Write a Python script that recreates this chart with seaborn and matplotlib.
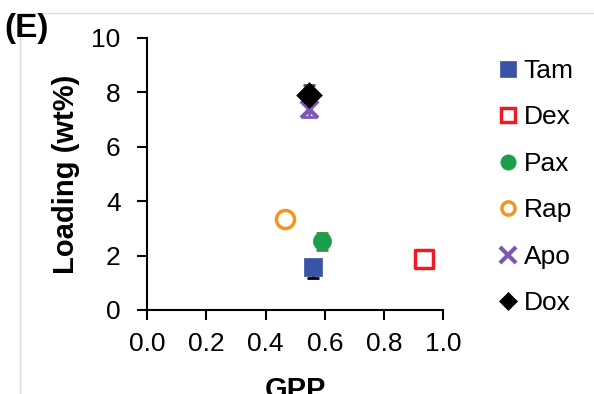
import numpy as np
import pandas as pd
import matplotlib
matplotlib.use('Agg')
import matplotlib.pyplot as plt
from matplotlib.lines import Line2D
import seaborn as sns

# data
drugs = ['Tam', 'Dex', 'Pax', 'Rap', 'Apo', 'Dox']
gpp = [0.56, 0.935, 0.59, 0.466, 0.547, 0.547]
loading = [1.58, 1.87, 2.52, 3.35, 7.38, 7.92]
err_low = [0.4, 0.15, 0.3, 0.12, 0.3, 0.35]
err_high = [0.2, 0.15, 0.3, 0.12, 0.3, 0.35]

colors = ['#3A53A4', '#ED1C24', '#1AA04A', '#F7941D', '#7E57B4', '#000000']
markers = ['s', 's', 'o', 'o', 'X', 'D']
filled = [True, False, True, False, True, True]
err_colors = ['#000000', '#ED1C24', '#6B7A3A', '#F7941D', '#7E57B4', '#555555']

df = pd.DataFrame({'drug': drugs, 'GPP': gpp, 'loading': loading,
                   'lo': err_low, 'hi': err_high})

sns.set_style('ticks')
plt.rcParams['font.family'] = ['Liberation Sans', 'DejaVu Sans']
plt.rcParams['text.color'] = 'black'
plt.rcParams['axes.labelcolor'] = 'black'
plt.rcParams['xtick.color'] = 'black'
plt.rcParams['ytick.color'] = 'black'

fig = plt.figure(figsize=(5.94, 3.94), dpi=100)
ax = fig.add_axes([0.2475, 0.2132, 0.4987, 0.6904])

handles = []
for i, row in df.iterrows():
    ax.errorbar(row['GPP'], row['loading'], yerr=[[row['lo']], [row['hi']]], fmt='none',
                ecolor=err_colors[i], elinewidth=2, capsize=4, capthick=2, zorder=2)
    sub = df.iloc[[i]]
    if filled[i]:
        fc, ec, lw = colors[i], colors[i], 0.5
    else:
        fc, ec, lw = 'white', colors[i], 2.5
    if markers[i] == 'X':
        sns.scatterplot(data=sub, x='GPP', y='loading', marker='x', s=150,
                        color=colors[i], linewidth=3, ax=ax, zorder=3)
        h = Line2D([], [], marker='x', ls='none', color=colors[i], markersize=11, mew=3)
    else:
        sns.scatterplot(data=sub, x='GPP', y='loading', marker=markers[i], s=170,
                        facecolor=fc, edgecolor=ec, linewidth=lw, ax=ax, zorder=4)
        ms = 9 if markers[i] == 'D' else 11
        h = Line2D([], [], marker=markers[i], ls='none', markerfacecolor=fc,
                   markeredgecolor=ec, markeredgewidth=lw if not filled[i] else 0.5,
                   markersize=ms if filled[i] else 9.5)
    handles.append(h)

ax.set_xlim(0, 1.0)
ax.set_ylim(0, 10)
ax.set_xticks(np.arange(0, 1.01, 0.2))
ax.set_xticklabels([f'{v:.1f}' for v in np.arange(0, 1.01, 0.2)])
ax.set_yticks(range(0, 11, 2))
ax.tick_params(axis='both', labelsize=19, width=1.5, length=7, color='black')
ax.tick_params(axis='y', pad=12)
ax.tick_params(axis='x', pad=9)
for s in ['left', 'bottom']:
    ax.spines[s].set_linewidth(1.5)
    ax.spines[s].set_color('black')
sns.despine(ax=ax)

ax.set_xlabel('GPP', fontsize=21, fontweight='bold', labelpad=14)
ax.set_ylabel('Loading (wt%)', fontsize=21, fontweight='bold', labelpad=8)

leg = ax.legend(handles, drugs, loc='upper left', bbox_to_anchor=(0.815, 0.877),
                bbox_transform=fig.transFigure, frameon=False, fontsize=19,
                handletextpad=0.1, handlelength=1.0, labelspacing=0.85, borderaxespad=0)

fig.text(0.008, 0.968, '(E)', fontsize=24, fontweight='bold', va='top', ha='left')

fig.add_artist(Line2D([20 / 594, 1], [1 - 13 / 394, 1 - 13 / 394], transform=fig.transFigure,
                      color='#dddddd', lw=1))
fig.add_artist(Line2D([20 / 594, 20 / 594], [0, 1 - 13 / 394], transform=fig.transFigure,
                      color='#dddddd', lw=1))

fig.savefig('out.png', dpi=100)
